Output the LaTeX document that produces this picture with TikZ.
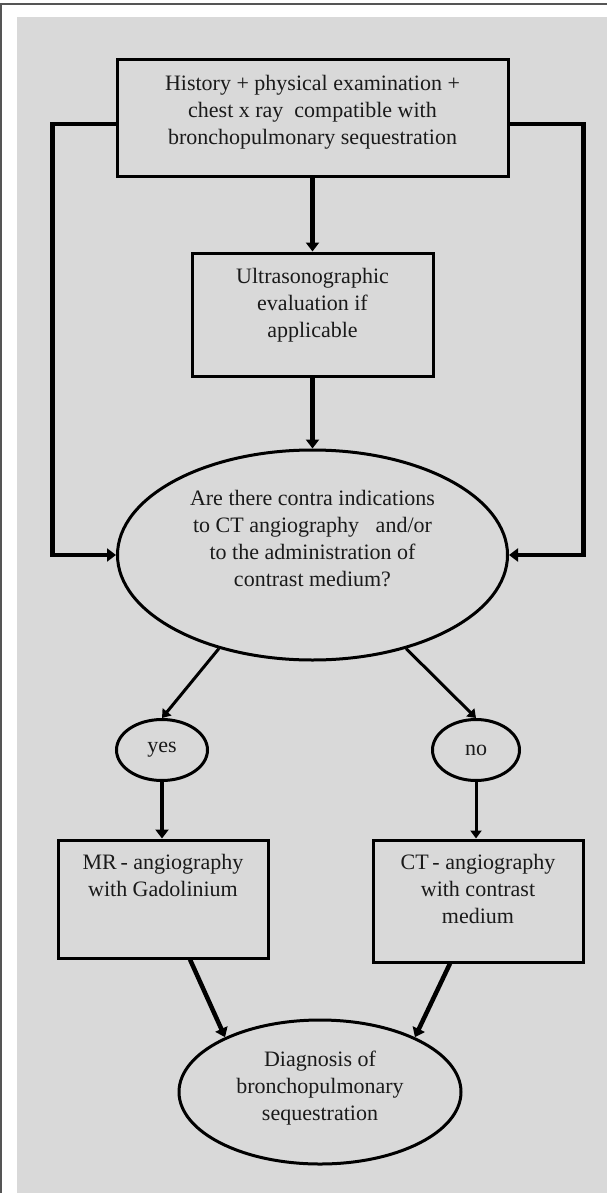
\documentclass[tikz,border=0pt]{standalone}
\usepackage{fontspec}
\setmainfont{Liberation Serif}
\usetikzlibrary{shapes.geometric,arrows.meta}
\definecolor{panel}{HTML}{D9D9D9}
\definecolor{frameline}{HTML}{555555}
\definecolor{ink}{HTML}{1A1A1A}

\begin{document}
\begin{tikzpicture}[
  x=1pt, y=-1pt,
  font=\fontsize{22}{27}\selectfont,
  box/.style={draw=black, line width=3pt, align=center, inner sep=2pt, text=ink},
  stepbox/.style={box, rectangle},
  oval/.style={box, ellipse, inner sep=0pt},
  flow/.style={-{Triangle[length=9pt,width=13pt]}, line width=4.5pt, draw=black},
  tflow/.style={-{Triangle[length=8pt,width=11pt]}, line width=3pt, draw=black},
]

% ===== frame and grey panel =====
\useasboundingbox (0,0) rectangle (607,1193);
\fill[white] (0,0) rectangle (607,1193);
\fill[panel] (17,17) rectangle (607,1193);
\draw[frameline, line width=1.5pt] (1,1193) -- (1,4) -- (607,4);

% ===== upper chain =====
\node[stepbox, minimum width=391pt, minimum height=117pt, text depth=18pt] (hist) at (312.5,118.5)
  {History + physical examination +\\chest x ray\ \ compatible with\\bronchopulmonary sequestration};
\node[stepbox, minimum width=241pt, minimum height=123pt, text depth=24pt] (ultra) at (312.5,314.5)
  {Ultrasonographic\\evaluation if\\applicable};
\node[oval, minimum width=390pt, minimum height=210pt, text depth=33pt] (quest) at (312.5,555)
  {Are there contra indications\\to CT angiography\ \ \ and/or\\to the administration of\\contrast medium?};

\draw[flow] (hist) -- (ultra);
\draw[flow] (ultra) -- (quest);
\draw[flow] ([yshift=-5.5pt]hist.west) -- ++(-63,0) |- (quest.west);
\draw[flow] ([yshift=-5.5pt]hist.east) -- ++(74,0) |- (quest.east);

% ===== answers =====
\node[oval, minimum width=91pt, minimum height=61pt] (yes) at (162,750) {yes};
\node[oval, minimum width=87pt, minimum height=61pt] (no) at (476,750) {no};
\draw[tflow] (quest.225) -- (yes.north);
\draw[tflow] (quest.315) -- (no.north);

% ===== imaging + diagnosis =====
\node[stepbox, minimum width=210pt, minimum height=118pt, text depth=48pt] (mr) at (163,899)
  {MR\,- angiography\\with Gadolinium};
\node[stepbox, minimum width=210pt, minimum height=122pt, text depth=25pt] (ct) at (478,901)
  {CT\,- angiography\\with contrast\\medium};
\node[oval, minimum width=282pt, minimum height=144pt, text depth=13pt] (diag) at (320,1092)
  {Diagnosis of\\bronchopulmonary\\sequestration};

\draw[flow] (yes.south) -- (yes.south |- mr.north);
\draw[tflow] (no.south) -- (no.south |- ct.north);
\draw[flow] ([xshift=27pt]mr.south) -- (diag.150);
\draw[flow] ([xshift=-28pt]ct.south) -- (diag.30);

\end{tikzpicture}
\end{document}
